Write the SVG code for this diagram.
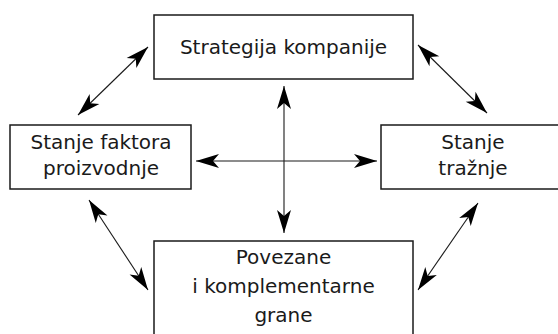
<svg xmlns="http://www.w3.org/2000/svg" width="558" height="334" viewBox="0 0 558 334">
<style>
.box{fill:#fff;stroke:#1a1a1a;stroke-width:1.5}
.t{font-family:"DejaVu Sans",sans-serif;font-size:20px;fill:#1a1a1a;text-anchor:middle}
.c{stroke:#1a1a1a;stroke-width:1.1;fill:none;marker-start:url(#ah);marker-end:url(#ah)}
</style>
<defs>
<marker id="ah" markerUnits="userSpaceOnUse" markerWidth="26" markerHeight="16" viewBox="-24 -8 26 16" refX="0" refY="0" orient="auto-start-reverse">
<path d="M0,0 L-23,-7 L-17,0 L-23,7 Z" fill="#000"/>
</marker>
</defs>
<rect width="558" height="334" fill="#fff"/>
<g id="connectors">
<line class="c" x1="78" y1="115" x2="148" y2="47"/>
<line class="c" x1="418" y1="45" x2="487" y2="113"/>
<line class="c" x1="89" y1="200" x2="148" y2="290"/>
<line class="c" x1="478" y1="203" x2="418" y2="290"/>
<line class="c" x1="284" y1="86" x2="284" y2="233"/>
<line class="c" x1="196" y1="161" x2="377" y2="161"/>
</g>
<g id="strategija">
<rect class="box" x="154" y="15" width="259" height="64"/>
<text class="t" x="283.5" y="54">Strategija kompanije</text>
</g>
<g id="faktori">
<rect class="box" x="10" y="125" width="181" height="64"/>
<text class="t" x="101" y="149">Stanje faktora</text>
<text class="t" x="101" y="175">proizvodnje</text>
</g>
<g id="traznja">
<rect class="box" x="381" y="125" width="185" height="64"/>
<text class="t" x="473" y="149">Stanje</text>
<text class="t" x="473" y="175">tražnje</text>
</g>
<g id="grane">
<rect class="box" x="154" y="241" width="259" height="100"/>
<text class="t" x="283.5" y="264">Povezane</text>
<text class="t" x="283.5" y="293">i komplementarne</text>
<text class="t" x="283.5" y="322">grane</text>
</g>
</svg>
